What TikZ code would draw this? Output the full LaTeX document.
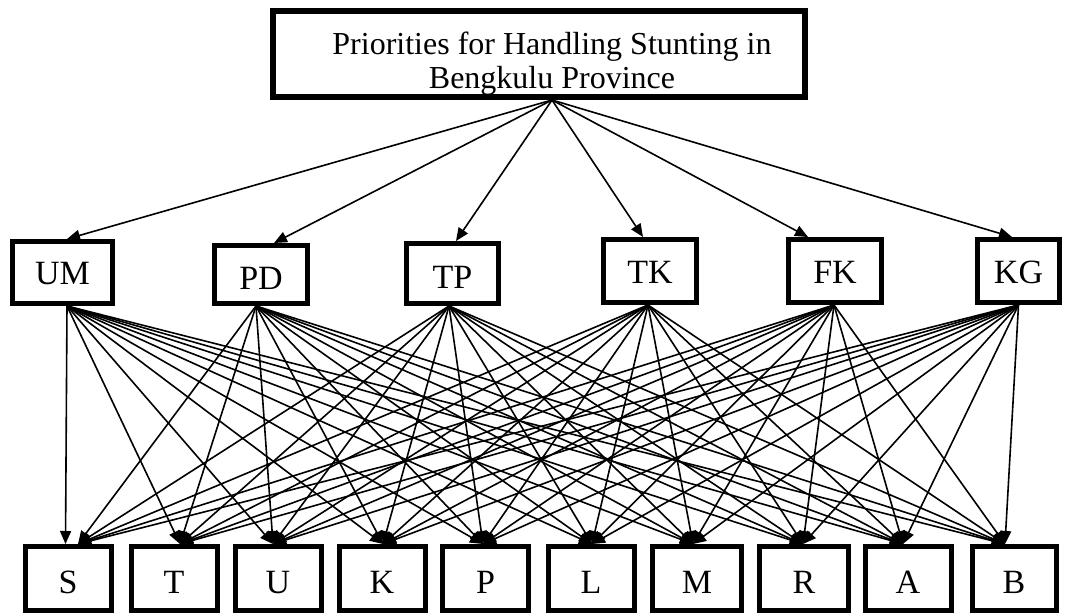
\documentclass[tikz,border=0pt]{standalone}
\usepackage{fontspec}
\setmainfont{Liberation Serif}
\usetikzlibrary{arrows.meta}
\begin{document}
\begin{tikzpicture}[x=1pt,y=-1pt,
  box/.style={draw, line width=5pt, inner sep=0pt, text depth=0pt, font=\fontsize{34}{38}\selectfont},
  midbox/.style={box, text height=#1},
  botbox/.style={box, minimum width=#1, minimum height=64pt, text height=29pt},
  titletext/.style={inner sep=0pt, anchor=base, font=\fontsize{32}{36}\selectfont},
  arr/.style={line width=1.6pt, -{Triangle[length=13pt,width=11pt]}},
]
\useasboundingbox (0,0) rectangle (1065,614);

% top
\node[box, line width=6pt, minimum width=532pt, minimum height=86pt] (top) at (539,54) {};
\node[titletext] (t1) at (552,54) {Priorities for Handling Stunting in};
\node[titletext] (t2) at (552,88.5) {Bengkulu Province};

% middle level
\node[midbox=23pt, minimum width=100pt, minimum height=62pt] (UM) at (62.5,272.5) {UM};
\node[midbox=29pt, minimum width=93pt, minimum height=58pt] (PD) at (261,274.5) {PD};
\node[midbox=29pt, minimum width=92pt, minimum height=60pt] (TP) at (452.5,273.5) {TP};
\node[midbox=25pt, minimum width=93pt, minimum height=63pt] (TK) at (650,271) {TK};
\node[midbox=25pt, minimum width=93pt, minimum height=63pt] (FK) at (835,271) {FK};
\node[midbox=24pt, minimum width=82pt, minimum height=63pt] (KG) at (1018.5,271) {KG};

% bottom level
\node[botbox=86pt] (S) at (68,578.5) {S};
\node[botbox=86pt] (T) at (174,578.5) {T};
\node[botbox=86pt] (U) at (278,578.5) {U};
\node[botbox=86pt] (K) at (382,578.5) {K};
\node[botbox=86pt] (P) at (485.5,578.5) {P};
\node[botbox=86pt] (L) at (591,578.5) {L};
\node[botbox=89pt] (M) at (697,578.5) {M};
\node[botbox=89pt] (R) at (804,578.5) {R};
\node[botbox=86pt] (A) at (908,578.5) {A};
\node[botbox=84pt] (B) at (1014,578.5) {B};

% top to middle
\coordinate (topout) at ([xshift=13pt]top.south);
\foreach \m/\dx in {UM/4.5, PD/13, TP/3.5, TK/-7, FK/-27, KG/-6.5}
  \draw[arr] (topout) -- ([xshift=\dx pt]\m.north);

% middle to bottom
\foreach \m/\mx in {UM/4.5, PD/-5, TP/-3.5, TK/-2, FK/-1, KG/0}
  \foreach \b/\bx in {T/6, U/-5, K/1, P/-2.5, L/1, M/-4, R/-1, A/-5, B/-9}
    \draw[arr] ([xshift=\mx pt]\m.south) -- ([xshift=\bx pt]\b.north);
\foreach \m/\mx/\bx in {UM/4.5/-2.5, PD/-5/10, TP/-3.5/10, TK/-2/10, FK/-1/10, KG/0/10}
  \draw[arr] ([xshift=\mx pt]\m.south) -- ([xshift=\bx pt]S.north);
\end{tikzpicture}
\end{document}
